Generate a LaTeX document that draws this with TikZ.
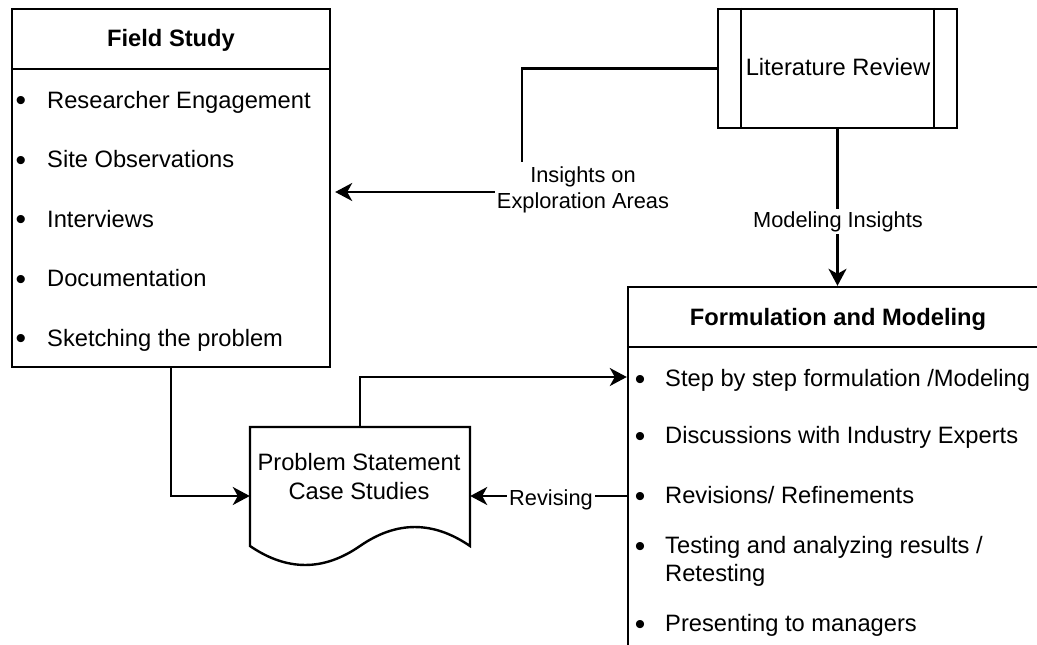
\documentclass[tikz,border=0pt]{standalone}
\usepackage{fontspec}
\setmainfont{Liberation Sans}
\usetikzlibrary{arrows.meta}
\begin{document}
\begin{tikzpicture}[x=1pt,y=-1pt,
  box/.style={draw, line width=2.4pt, inner sep=0pt},
  conn/.style={line width=2.4pt},
  arr/.style={conn, -{Stealth[length=17pt,width=18pt,inset=5pt]}},
  txt/.style={inner sep=0pt, font=\fontsize{23.7}{28}\selectfont},
  item/.style={txt, anchor=base west},
  bul/.style={inner sep=0pt, anchor=base, font=\fontsize{30}{30}\selectfont},
  ttl/.style={txt, anchor=base, font=\fontsize{23.7}{28}\selectfont\bfseries},
  lbl/.style={fill=white, inner sep=2pt, align=center, font=\fontsize{21.8}{26}\selectfont}
]
\useasboundingbox (0,0) rectangle (1037,645);
\clip (0,0) rectangle (1037,645);

% Field Study list box
\node[box, minimum width=318, minimum height=358] (field) at (171,188) {};
\draw[conn] (field.west |- 0,69) -- (field.east |- 0,69);
\node[ttl] (fieldttl) at (171,46.5) {Field Study};
\foreach \t [count=\i] in {Researcher Engagement, Site Observations,
    Interviews, Documentation, Sketching the problem} {
  \node[bul]  (fsb\i) at (21,51+59.5*\i) {•};
  \node[item] (fs\i)  at (47,48.5+59.5*\i) {\t};
}

% Literature Review (predefined process)
\node[box, minimum width=239, minimum height=119] (lit) at (837.5,68.5) {};
\draw[conn] ([xshift=24]lit.north west) -- ([xshift=24]lit.south west);
\draw[conn] ([xshift=-24]lit.north east) -- ([xshift=-24]lit.south east);
\node[txt, anchor=base] (littxt) at (838,75.5) {Literature Review};

% Formulation and Modeling list box (runs past the page edges)
\node[box, minimum width=420, minimum height=460] (form) at (838,517) {};
\draw[conn] (form.west |- 0,347) -- (form.east |- 0,347);
\node[ttl] (formttl) at (838,325.5) {Formulation and Modeling};
\node[bul]  (fmb1) at (640,389) {•};
\node[item] (fm1)  at (665,386.5) {Step by step formulation /Modeling};
\node[bul]  (fmb2) at (640,446) {•};
\node[item] (fm2)  at (665,443.5) {Discussions with Industry Experts};
\node[bul]  (fmb3) at (640,506) {•};
\node[item] (fm3)  at (665,503.5) {Revisions/ Refinements};
\node[bul]  (fmb4) at (640,556) {•};
\node[item] (fm4)  at (665,553.5) {Testing and analyzing results /};
\node[item] (fm4b) at (665,581.5) {Retesting};
\node[bul]  (fmb5) at (640,634) {•};
\node[item] (fm5)  at (665,631.5) {Presenting to managers};

% Problem statement document shape
\node[inner sep=0pt, minimum width=220, minimum height=138] (doc) at (360,496) {};
\draw[conn, line join=miter] (250,546) -- (250,427) -- (470,427) -- (470,546)
  .. controls (433,520.7) and (396.5,520.7) .. (360,546)
  .. controls (323.5,571.3) and (287,571.3) .. (250,546) -- cycle;
\node[txt, anchor=base] (doc1) at (359,470) {Problem Statement};
\node[txt, anchor=base] (doc2) at (359,499) {Case Studies};

% Connectors
\coordinate (bend1) at (522,192);
\draw[arr, shorten >=4pt] (lit.west) -| (bend1) -- (field.east |- bend1);
\node[lbl, inner ysep=5pt] (lab1) at (583,190) {Insights on\\Exploration Areas};

\draw[arr] (lit.south) -- (lit.south |- form.north);
\node[lbl, anchor=base] (lab2) at (838,227) {Modeling Insights};

\draw[arr] (field.south) |- (doc.west);
\draw[arr] (doc.north |- 0,427) |- (form.west |- 0,377);

\draw[arr] (form.west |- doc.west) -- (doc.east);
\node[lbl, anchor=base] (lab3) at (551,505) {Revising};
\end{tikzpicture}
\end{document}
